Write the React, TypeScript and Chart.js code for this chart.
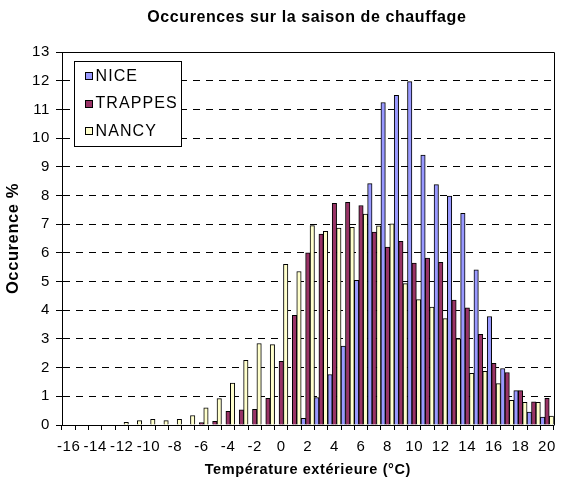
import React, { useEffect, useRef } from 'react';
import { Chart, registerables } from 'chart.js';

Chart.register(...registerables);

const FONT = '"Liberation Sans", Arial, sans-serif';

const chartTitle = 'Occurences sur la saison de chauffage';

const temperatures = [
  -16, -15, -14, -13, -12, -11, -10, -9, -8, -7, -6, -5, -4, -3, -2, -1, 0,
  1, 2, 3, 4, 5, 6, 7, 8, 9, 10, 11, 12, 13, 14, 15, 16, 17, 18, 19, 20,
];

const tickLabels = [
  '-16', '', '-14', '', '-12', '', '-10', '', '-8', '', '-6', '', '-4', '', '-2', '', '0',
  '', '2', '', '4', '', '6', '', '8', '', '10', '', '12', '', '14', '', '16', '', '18', '', '20',
];

const nice = [
  0, 0, 0, 0, 0, 0, 0, 0, 0, 0, 0, 0, 0, 0, 0, 0, 0,
  0, 0.23, 0.96, 1.76, 2.75, 5.04, 8.41, 11.24, 11.49, 11.97, 9.41, 8.38, 7.98, 7.38, 5.41, 3.78, 1.97, 1.2, 0.45, 0.28,
];

const trappes = [
  0, 0, 0, 0, 0, 0, 0, 0, 0, 0, 0.08, 0.13, 0.48, 0.53, 0.55, 0.93, 2.22,
  3.82, 6.0, 6.65, 7.73, 7.76, 7.65, 6.72, 6.2, 6.4, 5.64, 5.82, 5.67, 4.35, 4.08, 3.16, 2.15, 1.83, 1.2, 0.81, 0.93,
];

const nancy = [
  0, 0, 0, 0, 0.09, 0.15, 0.2, 0.15, 0.2, 0.33, 0.6, 0.92, 1.46, 2.25, 2.84, 2.8, 5.6,
  5.35, 6.95, 6.75, 6.86, 6.89, 7.35, 6.94, 7.01, 4.93, 4.37, 4.11, 3.71, 3.0, 1.8, 1.87, 1.44, 0.86, 0.79, 0.79, 0.31,
];

const seriesNames = ['NICE', 'TRAPPES', 'NANCY'];
const seriesColors = ['#9999FF', '#993366', '#FFFFCC'];

const LETTER_SPACING = '0.6px';

const spacingPlugin = {
  id: 'letterSpacing',
  beforeLayout(chart: any) {
    chart.ctx.letterSpacing = LETTER_SPACING;
  },
  beforeDraw(chart: any) {
    chart.ctx.letterSpacing = LETTER_SPACING;
  },
};

const titlePlugin = {
  id: 'plotTitle',
  afterDraw(chart: any) {
    const { ctx, chartArea } = chart;
    ctx.save();
    ctx.letterSpacing = LETTER_SPACING;
    ctx.font = `bold 16px ${FONT}`;
    ctx.fillStyle = '#000';
    ctx.textAlign = 'center';
    ctx.textBaseline = 'middle';
    ctx.fillText(chartTitle, (chartArea.left + chartArea.right) / 2 - 1, 18);
    ctx.restore();
  },
};

const framePlugin = {
  id: 'plotFrame',
  afterDatasetsDraw(chart: any) {
    const { ctx, chartArea } = chart;
    ctx.save();
    ctx.strokeStyle = '#000';
    ctx.lineWidth = 1;
    ctx.beginPath();
    const l = Math.round(chartArea.left) + 0.5;
    const t = Math.round(chartArea.top) + 0.5;
    const r = Math.round(chartArea.right) + 0.5;
    const b = Math.round(chartArea.bottom) + 0.5;
    ctx.moveTo(l, t);
    ctx.lineTo(r, t);
    ctx.lineTo(r, b);
    ctx.stroke();
    ctx.restore();
  },
};

const boxLegendPlugin = {
  id: 'boxLegend',
  afterDraw(chart: any) {
    const { ctx, chartArea } = chart;
    const datasets = chart.data.datasets;
    ctx.save();
    ctx.letterSpacing = '1.1px';
    ctx.font = `16px ${FONT}`;
    const x0 = Math.round(chartArea.left + 12) + 0.5;
    const y0 = Math.round(chartArea.top + 9) + 0.5;
    const rowH = 27.5;
    const widths = datasets.map((d: any) => ctx.measureText(d.label).width);
    const textX = x0 + 21;
    const w = Math.round(21 + Math.max(...widths) + 4);
    const h = 85;
    ctx.fillStyle = '#fff';
    ctx.fillRect(x0, y0, w, h);
    ctx.strokeStyle = '#000';
    ctx.lineWidth = 1;
    ctx.strokeRect(x0, y0, w, h);
    datasets.forEach((d: any, i: number) => {
      const cy = y0 + 14 + i * rowH;
      const sy = Math.round(cy - 3.5) + 0.5;
      ctx.fillStyle = d.backgroundColor;
      ctx.fillRect(x0 + 11, sy, 7, 7);
      ctx.strokeRect(x0 + 11, sy, 7, 7);
      ctx.fillStyle = '#000';
      ctx.textBaseline = 'middle';
      ctx.textAlign = 'left';
      ctx.fillText(d.label, textX, cy + 1);
    });
    ctx.restore();
  },
};

export default function App() {
  const canvasRef = useRef<HTMLCanvasElement | null>(null);

  useEffect(() => {
    if (!canvasRef.current) return;
    const series = [nice, trappes, nancy];
    const chart = new Chart(canvasRef.current, {
      type: 'bar',
      data: {
        labels: temperatures.map(String),
        datasets: series.map((values, i) => ({
          label: seriesNames[i],
          data: values,
          backgroundColor: seriesColors[i],
          borderColor: '#000',
          borderWidth: 1,
          barPercentage: 1,
          categoryPercentage: 1,
        })),
      },
      options: {
        responsive: false,
        animation: false,
        layout: { padding: { left: 0, right: 3, top: 52, bottom: 0 } },
        plugins: {
          legend: { display: false },
          tooltip: { enabled: false },
          title: { display: false },
        },
        scales: {
          x: {
            type: 'category',
            offset: true,
            grid: {
              display: true,
              drawOnChartArea: false,
              drawTicks: true,
              tickLength: 5,
              color: '#000',
              offset: true,
            },
            border: { display: true, color: '#000', width: 1 },
            ticks: {
              autoSkip: false,
              maxRotation: 0,
              minRotation: 0,
              padding: 8,
              color: '#000',
              font: { family: FONT, size: 15 },
              callback: (_v: any, i: number) => tickLabels[i],
            },
            title: {
              display: true,
              text: 'Température extérieure (°C)',
              color: '#000',
              font: { family: FONT, size: 14.5, weight: 'bold' },
              padding: { top: 0, bottom: 1 },
            },
            afterFit: (s: any) => {
              s.height = 55;
            },
          },
          y: {
            min: 0,
            max: 13,
            ticks: {
              stepSize: 1,
              padding: 6,
              color: '#000',
              font: { family: FONT, size: 15 },
            },
            grid: {
              color: (c: any) =>
                c.tick && (c.tick.value === 0 || c.tick.value === 13) ? 'rgba(0,0,0,0)' : '#000',
              tickColor: '#000',
              tickLength: 6,
              lineWidth: 1,
            },
            border: { display: true, color: '#000', width: 1, dash: [7, 6] },
            title: {
              display: true,
              text: 'Occurence %',
              color: '#000',
              font: { family: FONT, size: 16.5, weight: 'bold' },
              padding: { top: 4, bottom: 0 },
            },
            afterFit: (s: any) => {
              s.width = 62;
            },
          },
        },
      } as any,
      plugins: [spacingPlugin, framePlugin, boxLegendPlugin, titlePlugin],
    });
    return () => chart.destroy();
  }, []);

  return (
    <div style={{ position: 'fixed', left: 0, top: 0, width: 564, height: 480, background: '#fff' }}>
      <canvas ref={canvasRef} width={564} height={480} />
    </div>
  );
}
